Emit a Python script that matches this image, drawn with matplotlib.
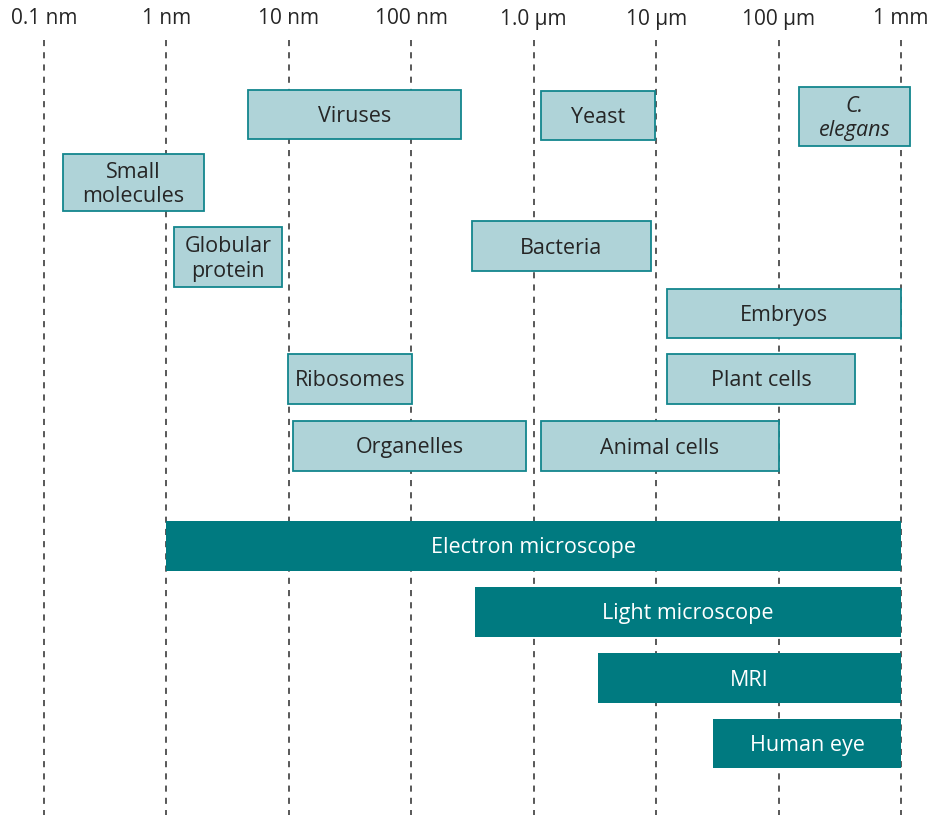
import matplotlib.pyplot as plt
from matplotlib.patches import Rectangle

# size scale, in nm
tick_values = [0.1, 1, 10, 100, 1e3, 1e4, 1e5, 1e6]
tick_labels = ['0.1 nm', '1 nm', '10 nm', '100 nm', '1.0 μm', '10 μm', '100 μm', '1 mm']

# objects: name, from (nm), to (nm)
obj_names = ['Viruses', 'Yeast', 'C.\nelegans', 'Small\nmolecules', 'Globular\nprotein',
             'Bacteria', 'Embryos', 'Ribosomes', 'Plant cells', 'Organelles', 'Animal cells']
obj_lo = [4.6, 1150, 1.47e5, 0.143, 1.15, 313, 1.23e4, 9.8, 1.23e4, 10.8, 1150]
obj_hi = [255, 9800, 1.18e6, 2.03, 8.8, 9080, 1e6, 101, 4.2e5, 865, 1e5]

# instruments
tool_names = ['Electron microscope', 'Light microscope', 'MRI', 'Human eye']
tool_lo = [1, 331, 3350, 2.91e4]
tool_hi = [1e6, 1e6, 1e6, 1e6]

# layout (pixel rows, top / bottom)
obj_top = [90, 91, 87, 154, 227, 221, 289, 354, 354, 421, 421]
obj_bot = [139, 140, 146, 211, 287, 271, 338, 404, 404, 471, 471]
tool_top = [521, 587, 653, 719]
tool_bot = [571, 637, 703, 768]

light_fill = '#afd3d8'
light_edge = '#13868d'
dark_fill = '#007a80'
text_col = '#262626'

plt.rcParams['font.family'] = ['Open Sans', 'DejaVu Sans']

fig = plt.figure(figsize=(9.38, 8.15), dpi=100)
ax = fig.add_axes([0, 0, 1, 1])
ax.set_xscale('log')
dec = (901 - 44) / 7
ax.set_xlim(10 ** (-1 - 44 / dec), 10 ** (-1 + (938 - 44) / dec))
ax.set_ylim(815, 0)
ax.axis('off')

for v, lab in zip(tick_values, tick_labels):
    ax.plot([v, v], [40, 815], color='#2b2b2b', lw=1.1, ls=(0, (4, 4)), zorder=1)
    ax.text(v, 19, lab, ha='center', va='center', fontsize=15, color=text_col)

for name, lo, hi, t, b in zip(obj_names, obj_lo, obj_hi, obj_top, obj_bot):
    ax.add_patch(Rectangle((lo, t), hi - lo, b - t, facecolor=light_fill,
                           edgecolor=light_edge, lw=1.3, zorder=2))
    xm = (lo * hi) ** 0.5
    style = 'italic' if 'elegans' in name else 'normal'
    ax.text(xm, (t + b) / 2 + 2, name, ha='center', va='center', fontsize=15.5,
            color=text_col, style=style, linespacing=1.2, zorder=3)

for name, lo, hi, t, b in zip(tool_names, tool_lo, tool_hi, tool_top, tool_bot):
    ax.add_patch(Rectangle((lo, t), hi - lo, b - t, facecolor=dark_fill,
                           edgecolor='none', zorder=2))
    xm = (lo * hi) ** 0.5
    ax.text(xm, (t + b) / 2 + 2, name, ha='center', va='center', fontsize=15.5,
            color='white', zorder=3)

fig.savefig('out.png', dpi=100)
